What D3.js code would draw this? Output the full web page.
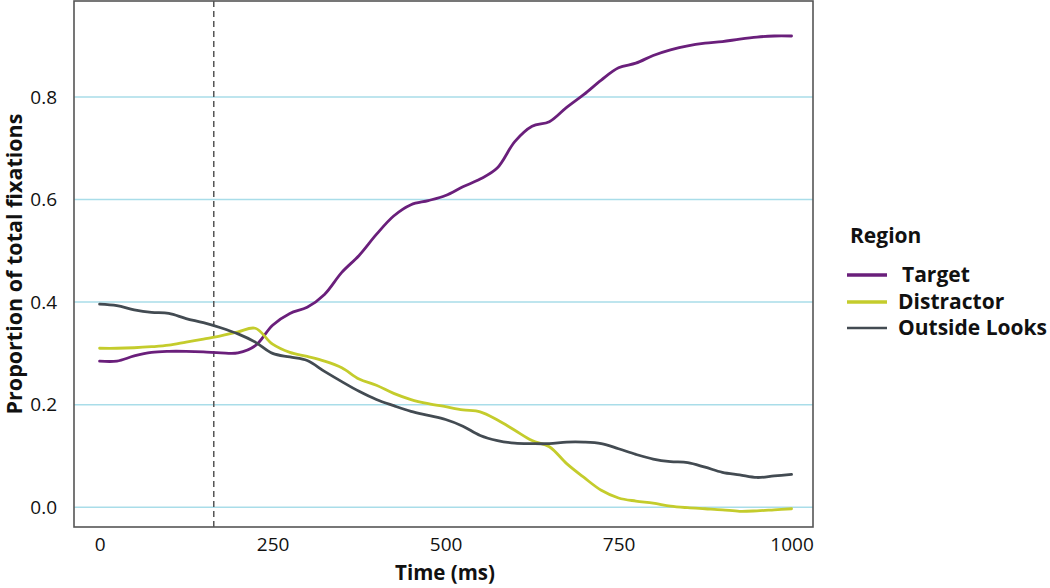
<!DOCTYPE html>
<html>
<head>
<meta charset="utf-8">
<script src="https://cdn.jsdelivr.net/npm/d3@7"></script>
<style>
  html, body { margin: 0; padding: 0; background: #ffffff; }
  svg { display: block; font-family: "Open Sans", "Noto Sans", sans-serif; }
</style>
</head>
<body>
<svg id="chart" width="1050" height="588"></svg>
<script>
// ---- Data ----
const times = [0,25,50,75,100,125,150,175,200,225,250,275,300,325,350,375,400,425,450,475,500,525,550,575,600,625,650,675,700,725,750,775,800,825,850,875,900,925,950,975,1000];
const target = [0.285,0.285,0.295,0.302,0.304,0.304,0.303,0.301,0.301,0.315,0.355,0.378,0.39,0.415,0.458,0.491,0.532,0.568,0.59,0.598,0.608,0.625,0.64,0.662,0.713,0.743,0.752,0.78,0.805,0.833,0.857,0.866,0.881,0.892,0.9,0.905,0.908,0.913,0.917,0.919,0.919];
const distractor = [0.31,0.31,0.311,0.313,0.316,0.322,0.328,0.334,0.342,0.349,0.318,0.302,0.294,0.285,0.272,0.25,0.238,0.222,0.21,0.202,0.196,0.19,0.186,0.17,0.15,0.13,0.118,0.085,0.058,0.033,0.018,0.012,0.008,0.002,-0.001,-0.003,-0.005,-0.008,-0.007,-0.005,-0.003];
const outside = [0.396,0.393,0.385,0.38,0.378,0.368,0.36,0.35,0.338,0.322,0.3,0.293,0.286,0.265,0.245,0.226,0.21,0.198,0.187,0.179,0.171,0.158,0.14,0.13,0.125,0.124,0.124,0.127,0.127,0.124,0.114,0.103,0.094,0.089,0.087,0.078,0.068,0.063,0.058,0.061,0.064];
const seriesNames = ["Target", "Distractor", "Outside Looks"];
const xTicks = [0, 250, 500, 750, 1000];
const yTicks = [0.0, 0.2, 0.4, 0.6, 0.8];
const onsetTime = 165;

const colors = {"Target": "#6a1f7b", "Distractor": "#c4cc2c", "Outside Looks": "#434b52"};
const seriesValues = {"Target": target, "Distractor": distractor, "Outside Looks": outside};

// ---- Layout ----
const svg = d3.select("#chart");
const plot = {left: 74, right: 813, top: 1, bottom: 527};

const x = d3.scaleLinear().domain([-37, 1031]).range([plot.left, plot.right]);
const y = d3.scaleLinear().domain([-0.0386, 0.9873]).range([plot.bottom, plot.top]);

// gridlines
svg.append("g").selectAll("line").data(yTicks).join("line")
  .attr("x1", plot.left).attr("x2", plot.right)
  .attr("y1", d => y(d)).attr("y2", d => y(d))
  .attr("stroke", "#a9dde9").attr("stroke-width", 1.5);

// dashed onset line
svg.append("line")
  .attr("x1", x(onsetTime)).attr("x2", x(onsetTime))
  .attr("y1", plot.top).attr("y2", plot.bottom)
  .attr("stroke", "#555").attr("stroke-width", 1.5)
  .attr("stroke-dasharray", "6,4");

// series lines
const line = d3.line()
  .x((d, i) => x(times[i]))
  .y(d => y(d))
  .curve(d3.curveCatmullRom.alpha(0.5));

svg.append("g").selectAll("path").data(seriesNames).join("path")
  .attr("d", n => line(seriesValues[n]))
  .attr("fill", "none")
  .attr("stroke", n => colors[n])
  .attr("stroke-width", 2.8)
  .attr("stroke-linejoin", "round")
  .attr("stroke-linecap", "round");

// frame
svg.append("rect")
  .attr("x", plot.left).attr("y", plot.top)
  .attr("width", plot.right - plot.left).attr("height", plot.bottom - plot.top)
  .attr("fill", "none").attr("stroke", "#555").attr("stroke-width", 1.6);

// axes (labels only)
const xAxis = d3.axisBottom(x).tickValues(xTicks).tickFormat(d3.format("d")).tickSize(0).tickPadding(11);
const gx = svg.append("g").attr("transform", `translate(0,${plot.bottom})`).call(xAxis);
gx.select(".domain").remove();
gx.selectAll("text").attr("font-size", 19).attr("fill", "#111").attr("font-family", "'Open Sans', sans-serif");

const yAxis = d3.axisLeft(y).tickValues(yTicks).tickFormat(d3.format(".1f")).tickSize(0).tickPadding(17);
const gy = svg.append("g").attr("transform", `translate(${plot.left},0)`).call(yAxis);
gy.select(".domain").remove();
gy.selectAll("text").attr("font-size", 19).attr("fill", "#111").attr("font-family", "'Open Sans', sans-serif");

// axis titles
svg.append("text")
  .attr("x", 445).attr("y", 580)
  .attr("text-anchor", "middle")
  .attr("font-size", 20.5).attr("font-weight", "bold").attr("fill", "#111")
  .text("Time (ms)");

svg.append("text")
  .attr("transform", `translate(22,${(plot.top + plot.bottom) / 2}) rotate(-90)`)
  .attr("text-anchor", "middle")
  .attr("font-size", 21.5).attr("font-weight", "bold").attr("fill", "#111")
  .text("Proportion of total fixations");

// legend
const legend = svg.append("g");
legend.append("text")
  .attr("x", 850).attr("y", 243)
  .attr("font-size", 21).attr("font-weight", "bold").attr("fill", "#111")
  .text("Region");

const legendY = [275, 302, 328];
const legendTextX = [902, 898, 898];
const lg = legend.selectAll("g.item").data(seriesNames).join("g").attr("class", "item");
lg.append("line")
  .attr("x1", 847).attr("x2", 887)
  .attr("y1", (d, i) => legendY[i]).attr("y2", (d, i) => legendY[i])
  .attr("stroke", d => colors[d])
  .attr("stroke-width", (d, i) => i === 2 ? 2.5 : 3.5);
lg.append("text")
  .attr("x", (d, i) => legendTextX[i]).attr("y", (d, i) => legendY[i])
  .attr("dy", "0.35em")
  .attr("font-size", 21).attr("font-weight", "bold").attr("fill", "#111")
  .text(d => d);
</script>
</body>
</html>
